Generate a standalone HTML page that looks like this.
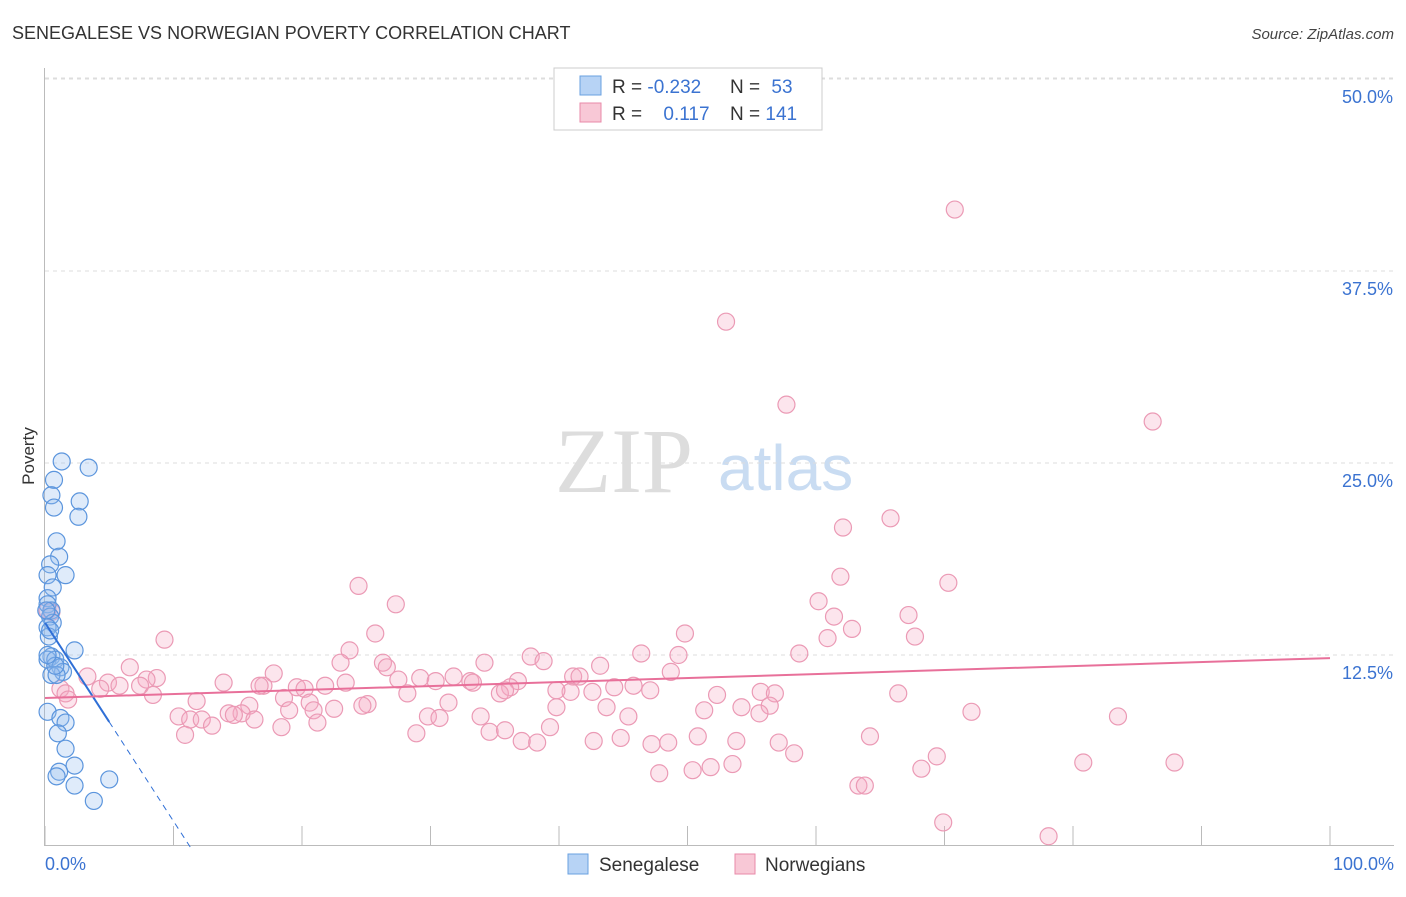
<!DOCTYPE html>
<html><head><meta charset="utf-8"><style>
body{margin:0;background:#fff;font-family:"Liberation Sans",sans-serif;}
</style></head><body>
<svg id="chart" width="1406" height="892" xmlns="http://www.w3.org/2000/svg" font-family="Liberation Sans, sans-serif">
<text x="12" y="39" font-size="18" fill="#333">SENEGALESE VS NORWEGIAN POVERTY CORRELATION CHART</text>
<text x="1394" y="39" font-size="15" fill="#444" text-anchor="end" font-style="italic">Source: ZipAtlas.com</text>
<g>
<text x="555" y="492" font-size="92" fill="#ddd" style="font-family:'Liberation Serif',serif">ZIP</text>
<text x="718" y="490" font-size="64" fill="#c9dcf2">atlas</text>
</g>
<g id="grid"></g>
<g id="axes"></g>
<g id="marks"></g>
<text transform="translate(34,456) rotate(-90)" font-size="17" fill="#333" text-anchor="middle">Poverty</text>
<g>
<rect x="554" y="68" width="268" height="62" fill="#fff" stroke="#ccc"/>
<rect x="580" y="76" width="21" height="19" fill="#b7d3f5" stroke="#6aa0e0"/>
<rect x="580" y="103" width="21" height="19" fill="#f8c8d6" stroke="#e88aa8"/>
<text x="612" y="93" font-size="19" fill="#333">R = <tspan fill="#3b73d1">-0.232</tspan></text>
<text x="730" y="93" font-size="19" fill="#333">N = <tspan fill="#3b73d1" dx="6">53</tspan></text>
<text x="612" y="120" font-size="19" fill="#333">R = <tspan fill="#3b73d1" dx="16">0.117</tspan></text>
<text x="730" y="120" font-size="19" fill="#333">N = <tspan fill="#3b73d1">141</tspan></text>
</g>
<g>
<rect x="568" y="854" width="20" height="20" fill="#b7d3f5" stroke="#6aa0e0"/>
<text x="599" y="871" font-size="19" fill="#333">Senegalese</text>
<rect x="735" y="854" width="20" height="20" fill="#f8c8d6" stroke="#e88aa8"/>
<text x="765" y="871" font-size="19" fill="#333">Norwegians</text>
</g>
</svg>
<script>
const blueX=[1.3,3.4,0.7,0.5,2.7,0.7,2.6,0.9,1.1,0.4,0.2,1.6,0.6,0.2,0.2,0.5,0.4,0.6,0.2,0.3,2.3,0.5,0.2,0.8,1.2,1.4,0.5,0.9,0.2,1.2,1.6,1.0,1.6,2.3,1.1,0.9,5.0,2.3,3.8,0.1,0.4,0.8,0.2];
const blueY=[25.1,24.7,23.9,22.9,22.5,22.1,21.5,19.9,18.9,18.4,17.7,17.7,16.9,16.2,15.8,15.4,15.0,14.6,14.3,13.7,12.8,12.4,12.2,12.2,11.7,11.4,11.2,11.2,8.8,8.4,8.1,7.4,6.4,5.3,4.9,4.6,4.4,4.0,3.0,15.4,14.1,11.8,12.5];
const pinkX=[70.8,53.0,57.7,86.2,65.8,62.1,61.9,70.3,24.4,27.3,60.2,67.2,61.4,62.8,60.9,67.7,49.8,25.7,9.3,23.7,46.4,49.3,58.7,37.8,38.8,34.2,26.3,23.0,26.6,6.6,17.8,43.2,48.7,8.7,29.2,31.8,41.1,41.6,7.9,3.3,27.5,30.4,33.1,36.8,4.9,13.9,33.3,17.0,36.2,16.7,21.8,23.4,19.6,20.2,45.8,5.8,4.3,7.4,1.2,1.6,1.8,42.6,40.9,44.3,47.1,39.8,35.4,28.2,35.8,11.8,25.1,8.4,18.6,66.4,52.3,55.7,56.8,15.9,20.6,24.7,31.4,39.8,20.9,15.3,14.3,19.0,22.5,29.8,10.4,54.2,43.7,51.3,56.4,55.6,72.1,83.5,11.3,14.7,16.3,12.2,30.7,33.9,45.4,21.2,13.0,18.4,39.3,28.9,34.6,35.8,10.9,37.1,38.3,42.7,44.8,47.2,48.5,50.8,53.8,57.1,64.2,58.3,69.4,80.8,87.9,53.5,68.2,50.4,51.8,47.8,63.3,63.8,69.9,78.1,0.5,0.2];
const pinkY=[41.5,34.2,28.8,27.7,21.4,20.8,17.6,17.2,17.0,15.8,16.0,15.1,15.0,14.2,13.6,13.7,13.9,13.9,13.5,12.8,12.6,12.5,12.6,12.4,12.1,12.0,12.0,12.0,11.7,11.7,11.3,11.8,11.4,11.0,11.0,11.1,11.1,11.1,10.9,11.1,10.9,10.8,10.8,10.8,10.7,10.7,10.7,10.5,10.4,10.5,10.5,10.7,10.4,10.3,10.5,10.5,10.3,10.5,10.3,10.0,9.6,10.1,10.1,10.4,10.2,10.2,10.0,10.0,10.2,9.5,9.3,9.9,9.7,10.0,9.9,10.1,10.0,9.2,9.4,9.2,9.4,9.1,8.9,8.7,8.7,8.9,9.0,8.5,8.5,9.1,9.1,8.9,9.2,8.7,8.8,8.5,8.3,8.6,8.3,8.3,8.4,8.5,8.5,8.1,7.9,7.8,7.8,7.4,7.5,7.6,7.3,6.9,6.8,6.9,7.1,6.7,6.8,7.2,6.9,6.8,7.2,6.1,5.9,5.5,5.5,5.4,5.1,5.0,5.2,4.8,4.0,4.0,1.6,0.7,15.3,15.4];
const yTicks=[12.5,25.0,37.5,50.0];
const xTickLabels=["0.0%","100.0%"];
const blueIntercept=14.6, blueZero=11.3, blueSolidEnd=5.0;
const pinkTrend=[9.7,12.3];

const X0=45,X1=1330,Y0=847,YPX=15.36;
const sx=v=>X0+v*(X1-X0)/100;
const sy=v=>Y0-v*YPX;
const NS="http://www.w3.org/2000/svg";
function mk(tag,attrs,parent){const e=document.createElementNS(NS,tag);for(const k in attrs)e.setAttribute(k,attrs[k]);parent.appendChild(e);return e;}
const gridG=document.getElementById('grid'),axesG=document.getElementById('axes'),marksG=document.getElementById('marks');
yTicks.forEach(t=>{
  const l=mk('line',{x1:45,x2:1394,y1:sy(t),y2:sy(t),stroke:'#ddd','stroke-dasharray':'4,4'},gridG);
  
  
  const tx=mk('text',{x:1393,y:sy(t)+24,'font-size':18,fill:'#3b73d1','text-anchor':'end'},axesG);
  tx.textContent=t.toFixed(1)+'%';
  
  
});
const topLine=mk('line',{x1:45,x2:1394,y1:sy(50)-1,y2:sy(50)-1,stroke:'#ddd','stroke-dasharray':'4,4'},gridG);


const ya=mk('line',{x1:44.5,x2:44.5,y1:68,y2:846,stroke:'#bbb'},axesG);


const xa=mk('line',{x1:44,x2:1394,y1:845.5,y2:845.5,stroke:'#bbb'},axesG);


for(let i=0;i<=10;i++){
  const t=mk('line',{x1:sx(i*10),x2:sx(i*10),y1:826,y2:846,stroke:'#bbb'},axesG);
  
  
}
[[0,'start',45],[1,'end',1394]].forEach(([i,a,x])=>{
  const t=mk('text',{x:x,y:870,'font-size':18,fill:'#3b73d1','text-anchor':a},axesG);
  t.textContent=xTickLabels[i];
  
  
});
pinkX.forEach((v,i)=>{
  const c=mk('circle',{cx:sx(v),cy:sy(pinkY[i]),r:8.5,fill:'rgba(244,170,195,0.3)',stroke:'#eb9ab5','stroke-width':1.2},marksG);
  
  
});
blueX.forEach((v,i)=>{
  const c=mk('circle',{cx:sx(v),cy:sy(blueY[i]),r:8.5,fill:'rgba(150,190,240,0.3)',stroke:'#5b95dd','stroke-width':1.2},marksG);
  
  
});
const bAt=x=>blueIntercept*(1-x/blueZero);
const bs=mk('line',{x1:sx(0),y1:sy(bAt(0)),x2:sx(blueSolidEnd),y2:sy(bAt(blueSolidEnd)),stroke:'#2f6fd6','stroke-width':2},marksG);


const bd=mk('line',{x1:sx(blueSolidEnd),y1:sy(bAt(blueSolidEnd)),x2:sx(blueZero),y2:sy(0),stroke:'#2f6fd6','stroke-width':1,'stroke-dasharray':'6,5'},marksG);


const pt=mk('line',{x1:sx(0),y1:sy(pinkTrend[0]),x2:sx(100),y2:sy(pinkTrend[1]),stroke:'#e8709a','stroke-width':2},marksG);


</script>
</body></html>
